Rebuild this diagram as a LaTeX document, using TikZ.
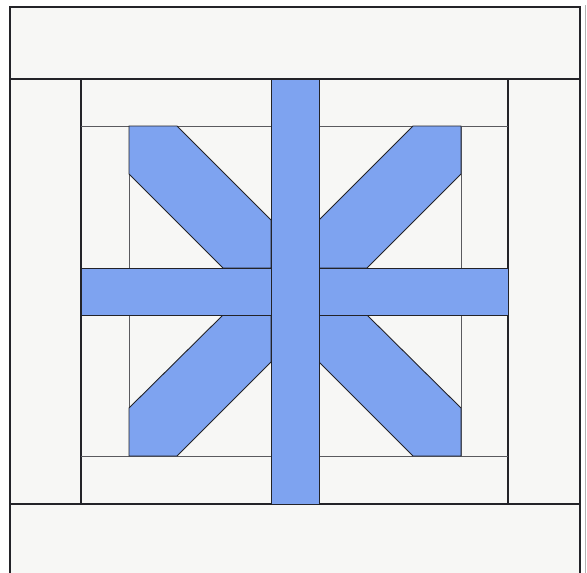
\documentclass[tikz,border=0pt]{standalone}
\definecolor{quiltbg}{RGB}{247,247,245}
\definecolor{quiltblue}{RGB}{126,163,240}
\definecolor{edge}{RGB}{35,35,40}
\begin{document}
\begin{tikzpicture}[x=1pt,y=-1pt,
  frame/.style={draw=edge,line width=1.1pt},
  inner/.style={draw=edge!75,line width=0.9pt},
  patch/.style={fill=quiltblue,draw=edge,line width=0.9pt,line join=miter}]
\useasboundingbox (0,0) rectangle (587,573);
\fill[white] (0,0) rectangle (587,573);
\fill[quiltbg] (10,7) rectangle (580,573);
% outer border
\draw[frame] (10,573) -- (10,7) -- (580,7) -- (580,573);
\draw[gray!60,line width=0.6pt] (585,5) -- (585,573);
% bands
\draw[frame] (10,79) -- (580,79);
\draw[frame] (10,504) -- (580,504);
\draw[frame] (81,79) -- (81,504);
\draw[frame] (508,79) -- (508,504);
\draw[inner] (81,126) -- (508,126);
\draw[inner] (81,456) -- (508,456);
\draw[inner] (129,126) -- (129,456);
\draw[inner] (461,126) -- (461,456);
% diagonals
\draw[patch] (129,126) -- (177,126) -- (271,220) -- (271,268) -- (223,268) -- (129,174) -- cycle;
\draw[patch] (461,126) -- (413,126) -- (319,220) -- (319,268) -- (367,268) -- (461,174) -- cycle;
\draw[patch] (129,456) -- (177,456) -- (271,362) -- (271,315) -- (223,315) -- (129,408) -- cycle;
\draw[patch] (461,456) -- (413,456) -- (319,362) -- (319,315) -- (367,315) -- (461,408) -- cycle;
% horizontal bar
\draw[patch] (81,268) rectangle (271,315);
\draw[patch] (319,268) rectangle (508,315);
% vertical bar
\draw[patch] (271,79) rectangle (319,504);
\end{tikzpicture}
\end{document}
